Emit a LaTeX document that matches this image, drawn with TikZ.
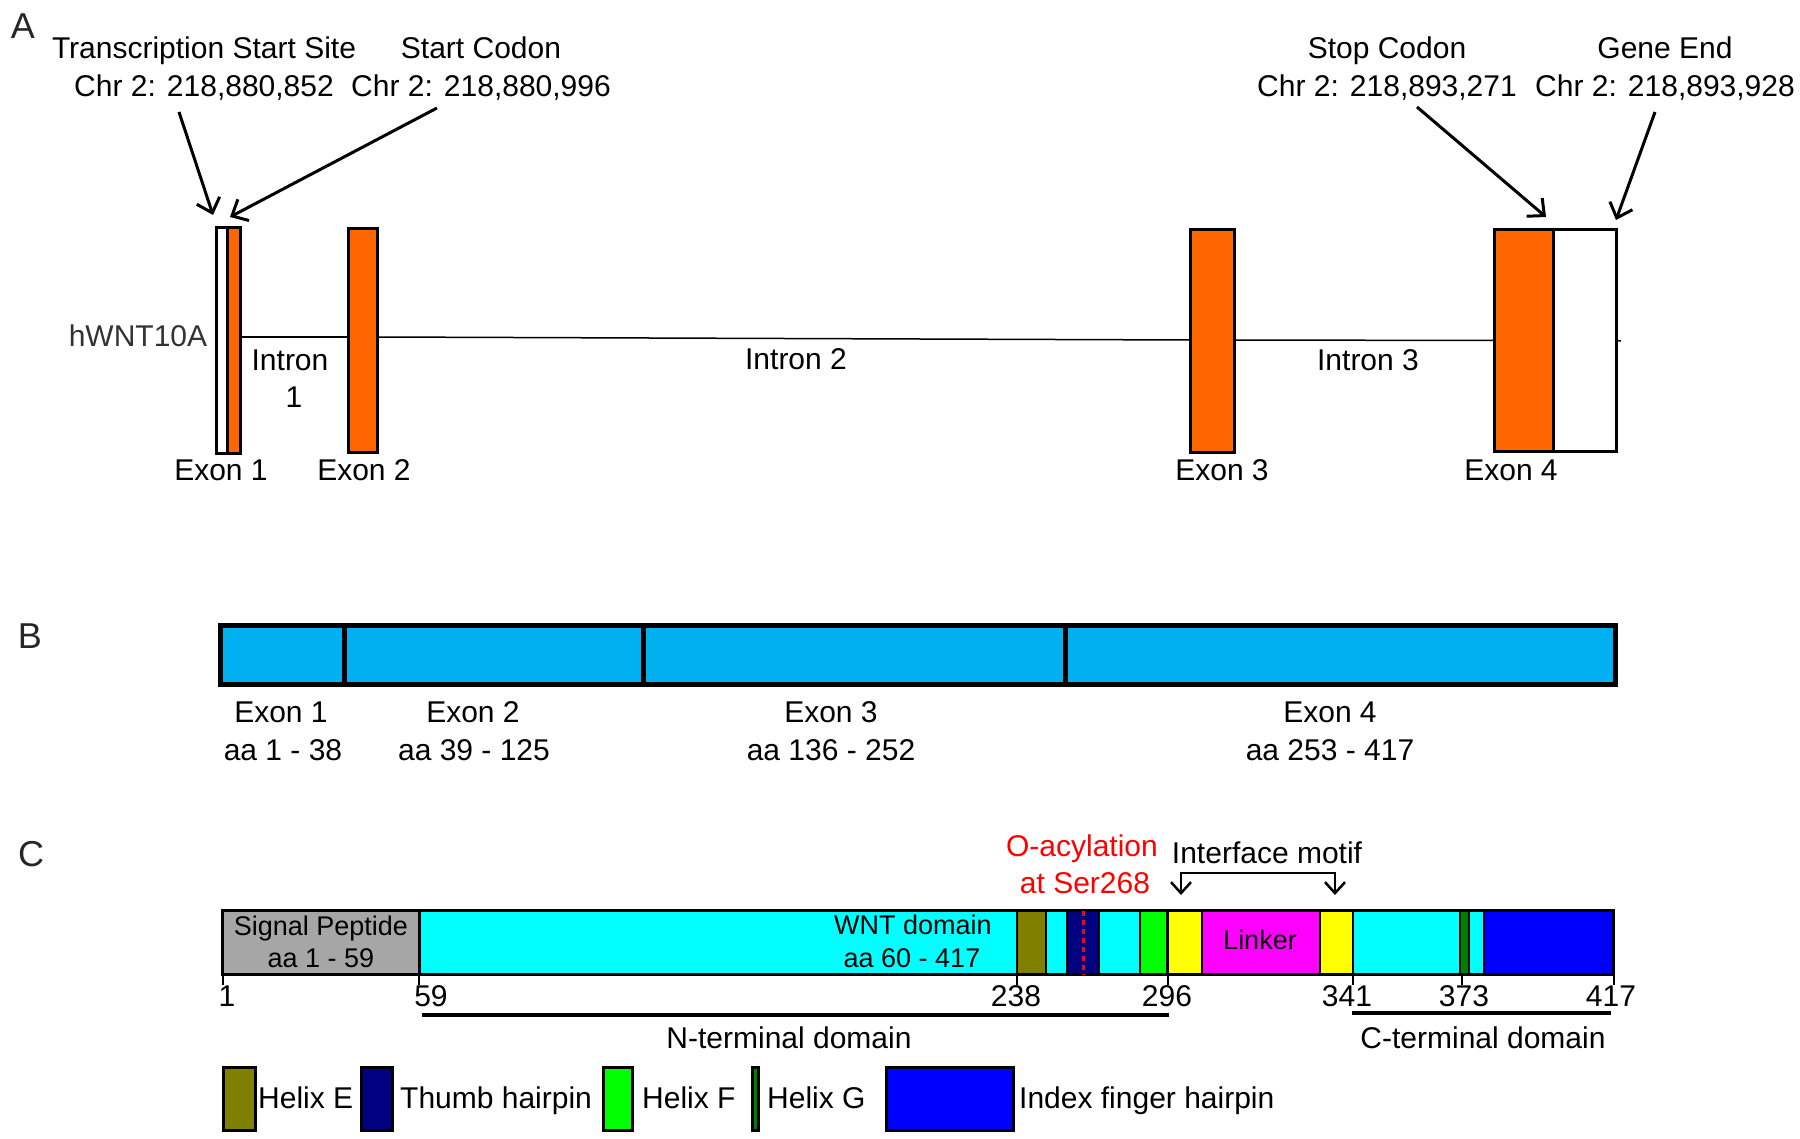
\documentclass[tikz,border=0pt]{standalone}
\usepackage{fontspec}
\setmainfont{Liberation Sans}
\usetikzlibrary{arrows.meta}
\definecolor{exorange}{RGB}{255,102,0}
\definecolor{exblue}{RGB}{0,176,240}
\definecolor{wntcyan}{RGB}{0,255,255}
\definecolor{sigray}{RGB}{166,166,166}
\definecolor{heolive}{RGB}{128,128,0}
\definecolor{thnavy}{RGB}{0,0,128}
\definecolor{hfgreen}{RGB}{0,255,0}
\definecolor{hgdark}{RGB}{0,128,0}
\definecolor{ifblue}{RGB}{0,0,255}
\definecolor{lkmag}{RGB}{255,0,255}
\definecolor{ylw}{RGB}{255,255,0}
\begin{document}
\begin{tikzpicture}[x=1pt,y=-1pt,
  lbl/.style={font=\fontsize{30}{32}\selectfont, inner sep=0pt, text height=21.5pt, text depth=0pt},
  ilbl/.style={font=\fontsize{27}{29}\selectfont, inner sep=0pt, text height=19.3pt, text depth=0pt},
  panel/.style={font=\fontsize{36}{38}\selectfont, inner sep=0pt, text height=26pt, text depth=0pt, text=black!85},
  exbox/.style={draw, line width=3pt, inner sep=0pt, outer sep=0pt, fill=exorange},
  bbox/.style={draw, line width=5pt, inner sep=0pt, outer sep=0pt, fill=exblue, minimum height=59pt},
  cbox/.style={draw, line width=2pt, inner sep=0pt, outer sep=0pt, minimum height=64pt},
  lgbox/.style={draw, line width=3pt, inner sep=0pt, outer sep=0pt, minimum height=63pt},
  arr/.style={line width=3pt, -{Straight Barb[length=13pt,width=24pt]}},
  tick/.style={line width=2pt},
  domline/.style={line width=4pt}
]
\fill[white] (0,0) rectangle (1800,1139);
\useasboundingbox (0,0) rectangle (1800,1139);

% ---------------- Panel A ----------------
\node[panel] (pA) at (23,26) {A};
\node[lbl] (tssT) at (204,48) {Transcription Start Site};
\node[lbl] (tssC) at (204,86) {Chr 2: 218,880,852};
\node[lbl] (scT) at (481,48) {Start Codon};
\node[lbl] (scC) at (481,86) {Chr 2: 218,880,996};
\node[lbl] (stT) at (1387,48) {Stop Codon};
\node[lbl] (stC) at (1387,86) {Chr 2: 218,893,271};
\node[lbl] (geT) at (1665,48) {Gene End};
\node[lbl] (geC) at (1665,86) {Chr 2: 218,893,928};

\node[lbl, text=black!80] (gene) at (138,336) {hWNT10A};

\node[exbox, fill=white, minimum width=10.5pt, minimum height=226pt] (ex1w) at (221.75,340.5) {};
\node[exbox, minimum width=13.5pt, minimum height=226pt] (ex1o) at (233.75,340.5) {};
\node[exbox, minimum width=29pt, minimum height=224pt] (ex2) at (363,340.5) {};
\node[exbox, minimum width=44pt, minimum height=223pt] (ex3) at (1212.5,341) {};
\node[exbox, minimum width=58.5pt, minimum height=222pt] (ex4o) at (1523.75,340.5) {};
\node[exbox, fill=white, minimum width=63.5pt, minimum height=222pt] (ex4w) at (1584.75,340.5) {};
\coordinate (geneEnd) at (1621,341);

\begin{scope}[line width=1.5pt]
\draw ([yshift=3.5pt]ex1o.east) -- ([yshift=3.5pt]ex2.west);
\draw ([yshift=3.5pt]ex2.east) -- ([yshift=1pt]ex3.west);
\draw ([yshift=1pt]ex3.east) -- ([yshift=0pt]ex4o.west);
\draw (ex4w.east) -- (geneEnd);
\end{scope}

\node[lbl] (in1a) at (290,360) {Intron};
\node[lbl] (in1b) at (294,397) {1};
\node[lbl] (in2) at (796,359) {Intron 2};
\node[lbl] (in3) at (1368,360) {Intron 3};
\node[lbl] (e1) at (221,470) {Exon 1};
\node[lbl] (e2) at (364,470) {Exon 2};
\node[lbl] (e3) at (1222,470) {Exon 3};
\node[lbl] (e4) at (1511,470) {Exon 4};

\coordinate (tssS) at (179,112);  \coordinate (tssE) at (213,215);
\coordinate (scS) at (437,108);   \coordinate (scE) at (230,217);
\coordinate (stS) at (1417,107);  \coordinate (stE) at (1546,217);
\coordinate (geS) at (1655,112);  \coordinate (geE) at (1616,220);
\draw[arr] (tssS) -- (tssE);
\draw[arr] (scS) -- (scE);
\draw[arr] (stS) -- (stE);
\draw[arr] (geS) -- (geE);

% ---------------- Panel B ----------------
\node[panel] (pB) at (30,635) {B};
\node[bbox, minimum width=123.5pt] (b1) at (282.25,655) {};
\node[bbox, minimum width=299pt] (b2) at (493.5,655) {};
\node[bbox, minimum width=422pt] (b3) at (854,655) {};
\node[bbox, minimum width=550.5pt] (b4) at (1340.25,655) {};
\node[lbl] (b1a) at (281,712) {Exon 1};
\node[lbl] (b1b) at (283,750) {aa 1 - 38};
\node[lbl] (b2a) at (473,712) {Exon 2};
\node[lbl] (b2b) at (474,750) {aa 39 - 125};
\node[lbl] (b3a) at (831,712) {Exon 3};
\node[lbl] (b3b) at (831,750) {aa 136 - 252};
\node[lbl] (b4a) at (1330,712) {Exon 4};
\node[lbl] (b4b) at (1330,750) {aa 253 - 417};

% ---------------- Panel C ----------------
\node[panel] (pC) at (31,853) {C};
\node[cbox, line width=3pt, fill=sigray, minimum width=196.5pt] (sig) at (320.75,942.5) {};
\node[cbox, line width=3pt, fill=wntcyan, minimum width=1194.5pt] (wnt) at (1016.25,942.5) {};
\node[cbox, fill=heolive, minimum width=29pt] (hE) at (1031.5,942.5) {};
\node[cbox, fill=thnavy, minimum width=32pt] (th) at (1083,942.5) {};
\node[cbox, fill=hfgreen, minimum width=27pt] (hF) at (1153.5,942.5) {};
\node[cbox, fill=ylw, minimum width=34pt] (y1) at (1185,942.5) {};
\node[cbox, fill=lkmag, minimum width=118pt] (lk) at (1261,942.5) {};
\node[cbox, fill=ylw, minimum width=33pt] (y2) at (1336.5,942.5) {};
\node[cbox, fill=hgdark, minimum width=9pt] (hG) at (1464.5,942.5) {};
\node[cbox, fill=ifblue, minimum width=129.5pt] (ix) at (1548.75,942.5) {};
\draw[line width=3pt] (sig.north west) rectangle (wnt.south east);
\draw[line width=3pt] (sig.north east) -- (sig.south east);
\draw[red, line width=3pt, dash pattern=on 5pt off 4pt] (th.north) -- (th.south);

\node[ilbl] (sigA) at (321,926) {Signal Peptide};
\node[ilbl] (sigB) at (321,958) {aa 1 - 59};
\node[ilbl] (wntA) at (913,925) {WNT domain};
\node[ilbl] (wntB) at (912,958) {aa 60 - 417};
\node[ilbl] (lkT) at (1260,940) {Linker};

\node[lbl, text=red] (oacA) at (1082,846) {O-acylation};
\node[lbl, text=red] (oacB) at (1085,883) {at Ser268};
\node[lbl] (ifm) at (1267,853) {Interface motif};
\coordinate (ifL) at (1181,895);
\coordinate (ifR) at (1335,895);
\draw[line width=2.5pt, {Straight Barb[length=11pt,width=20pt]}-{Straight Barb[length=11pt,width=20pt]}]
  (ifL) -- ++(0,-22) -- ([yshift=22pt]ifR) -- (ifR);

% ticks
\foreach \nm/\tx in {t1/222.5, t59/419, t238/1016.5, t296/1168, t341/1353, t373/1462, t417/1613.5}{
  \coordinate (\nm a) at (\tx,975);
  \coordinate (\nm b) at (\tx,985);
  \draw[tick] (\nm a) -- (\nm b);
}
\node[lbl] (n1) at (227,996) {1};
\node[lbl] (n59) at (431,996) {59};
\node[lbl] (n238) at (1016,996) {238};
\node[lbl] (n296) at (1167,996) {296};
\node[lbl] (n341) at (1347,996) {341};
\node[lbl] (n373) at (1464,996) {373};
\node[lbl] (n417) at (1611,996) {417};

\coordinate (ntL) at (422,1015); \coordinate (ntR) at (1169,1015);
\coordinate (ctL) at (1352,1013); \coordinate (ctR) at (1611,1013);
\draw[domline] (ntL) -- (ntR);
\draw[domline] (ctL) -- (ctR);
\node[lbl] (ntT) at (789,1038) {N-terminal domain};
\node[lbl] (ctT) at (1483,1038) {C-terminal domain};

% legend
\node[lgbox, fill=heolive, minimum width=32pt] (lE) at (239.5,1099) {};
\node[lgbox, fill=thnavy, minimum width=31pt] (lT) at (377,1099) {};
\node[lgbox, fill=hfgreen, minimum width=29pt] (lF) at (618,1099) {};
\node[lgbox, fill=hgdark, minimum width=6pt] (lG) at (755.5,1099) {};
\node[lgbox, fill=ifblue, minimum width=127pt] (lI) at (950,1099) {};
\node[lbl, anchor=west] (lEt) at (258,1098) {Helix E};
\node[lbl, anchor=west] (lTt) at (400,1098) {Thumb hairpin};
\node[lbl, anchor=west] (lFt) at (642,1098) {Helix F};
\node[lbl, anchor=west] (lGt) at (767,1098) {Helix G};
\node[lbl, anchor=west] (lIt) at (1019,1098) {Index finger hairpin};
\end{tikzpicture}
\end{document}
